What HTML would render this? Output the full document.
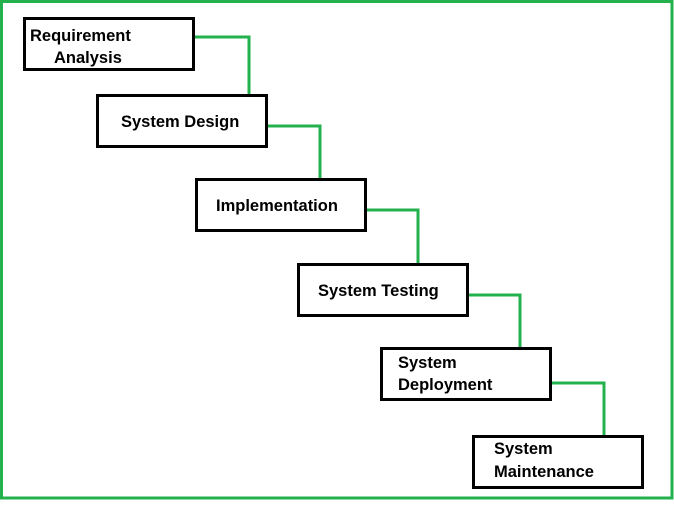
<!DOCTYPE html>
<html><head><style>
body{margin:0;width:674px;height:500px;background:#fff;overflow:hidden}
svg text{font-family:"Liberation Sans",sans-serif;font-weight:bold;font-size:16.5px;fill:#000}
</style></head><body>
<svg width="674" height="500" xmlns="http://www.w3.org/2000/svg">
<rect x="1.5" y="1.5" width="670.5" height="496.5" fill="none" stroke="#22b14c" stroke-width="3"/>
<g fill="none" stroke="#22b14c" stroke-width="3">
<polyline points="194,37 249,37 249,95"/>
<polyline points="267,126 320,126 320,179"/>
<polyline points="366,210 418,210 418,264"/>
<polyline points="468,295 520,295 520,348"/>
<polyline points="551,383 604,383 604,436"/>
</g>
<g fill="#fff" stroke="#000" stroke-width="3">
<rect x="24.5" y="18.5" width="169" height="51"/>
<rect x="97.5" y="95.5" width="169" height="51"/>
<rect x="196.5" y="179.5" width="169" height="51"/>
<rect x="298.5" y="264.5" width="169" height="51"/>
<rect x="381.5" y="348.5" width="169" height="51"/>
<rect x="473.5" y="436.5" width="169" height="51"/>
</g>
<text x="30" y="41">Requirement</text>
<text x="54" y="63">Analysis</text>
<text x="121" y="127">System Design</text>
<text x="216" y="211">Implementation</text>
<text x="318" y="296">System Testing</text>
<text x="398" y="368">System</text>
<text x="398" y="390">Deployment</text>
<text x="494" y="454">System</text>
<text x="494" y="477">Maintenance</text>
</svg>
</body></html>
